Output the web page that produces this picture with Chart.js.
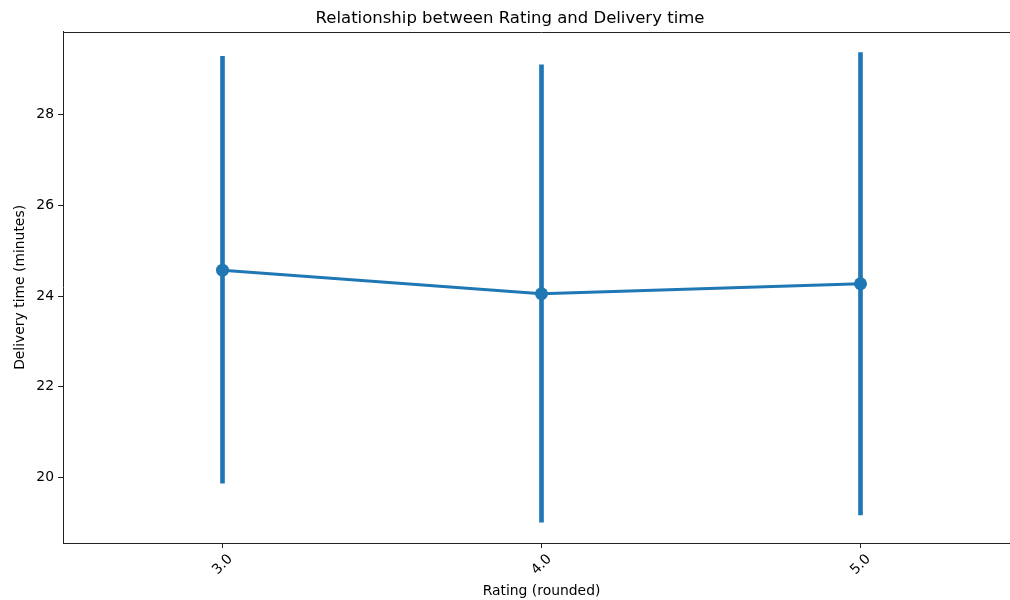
<!DOCTYPE html>
<html>
<head>
<meta charset="utf-8">
<script src="https://cdn.jsdelivr.net/npm/chart.js@4/dist/chart.umd.min.js"></script>
<style>
  html, body { margin: 0; padding: 0; background: #fff; overflow: hidden; }
  #wrap { width: 1030px; height: 600px; }
</style>
</head>
<body>
<div id="wrap"><canvas id="c" width="1030" height="600"></canvas></div>
<script>
// Rounded rating categories
const ratings = ['3.0', '4.0', '5.0'];
// Mean delivery time per rating (minutes)
const meanDelivery = [24.57, 24.05, 24.27];
// Error bar extents (minutes)
const errLow = [19.87, 19.01, 19.17];
const errHigh = [29.29, 29.10, 29.37];
// Y axis tick values
const yTicks = [20, 22, 24, 26, 28];

const BLUE = '#1f77b4';
const FONT = "'DejaVu Sans', sans-serif";

// Top spine across the plotting area
const topSpine = {
  id: 'topSpine',
  afterDatasetsDraw(chart) {
    const { ctx, chartArea: a } = chart;
    const t = Math.round(a.top) + 0.5;
    ctx.save();
    ctx.strokeStyle = '#222';
    ctx.lineWidth = 1;
    ctx.beginPath();
    ctx.moveTo(Math.round(a.left), t);
    ctx.lineTo(Math.round(a.right), t);
    ctx.stroke();
    ctx.restore();
  }
};

new Chart(document.getElementById('c'), {
  data: {
    labels: ratings,
    datasets: [
      {
        type: 'bar',
        data: ratings.map((_, i) => [errLow[i], errHigh[i]]),
        backgroundColor: BLUE,
        borderWidth: 0,
        barThickness: 4,
        order: 2
      },
      {
        type: 'line',
        data: meanDelivery,
        borderColor: BLUE,
        backgroundColor: BLUE,
        borderWidth: 3,
        pointRadius: 6.5,
        pointHoverRadius: 6.5,
        pointBorderWidth: 0,
        tension: 0,
        order: 1
      }
    ]
  },
  options: {
    responsive: false,
    animation: false,
    devicePixelRatio: 1,
    layout: { padding: { left: 0, right: 10, top: 0, bottom: 0 } },
    plugins: {
      legend: { display: false },
      tooltip: { enabled: false },
      title: {
        display: true,
        text: 'Relationship between Rating and Delivery time',
        color: '#000',
        font: { family: FONT, size: 16.5, weight: 'normal' },
        padding: { top: 9, bottom: 3 }
      }
    },
    scales: {
      x: {
        type: 'category',
        offset: true,
        grid: { display: true, drawOnChartArea: false, drawTicks: true, tickLength: 5, color: '#222', offset: false },
        border: { display: true, color: '#222', width: 1 },
        ticks: {
          color: '#000',
          font: { family: FONT, size: 13.9 },
          minRotation: 45,
          maxRotation: 45,
          labelOffset: 8,
          padding: 3
        },
        title: {
          display: true,
          text: 'Rating (rounded)',
          color: '#000',
          font: { family: FONT, size: 13.9 },
          padding: { top: 12, bottom: 0 }
        },
        afterFit(s) { s.height = 57; }
      },
      y: {
        type: 'linear',
        min: 18.55,
        max: 29.83,
        grid: { display: true, drawOnChartArea: false, drawTicks: true, tickLength: 5, color: '#222' },
        border: { display: true, color: '#222', width: 1 },
        afterBuildTicks(s) { s.ticks = yTicks.map(v => ({ value: v })); },
        ticks: {
          color: '#000',
          font: { family: FONT, size: 13.9 },
          padding: 4,
          callback: v => String(v)
        },
        title: {
          display: true,
          text: 'Delivery time (minutes)',
          color: '#000',
          font: { family: FONT, size: 13.9 },
          padding: { top: 12, bottom: 4 }
        },
        afterFit(s) { s.width = 63; }
      }
    }
  },
  plugins: [topSpine]
});
</script>
</body>
</html>
